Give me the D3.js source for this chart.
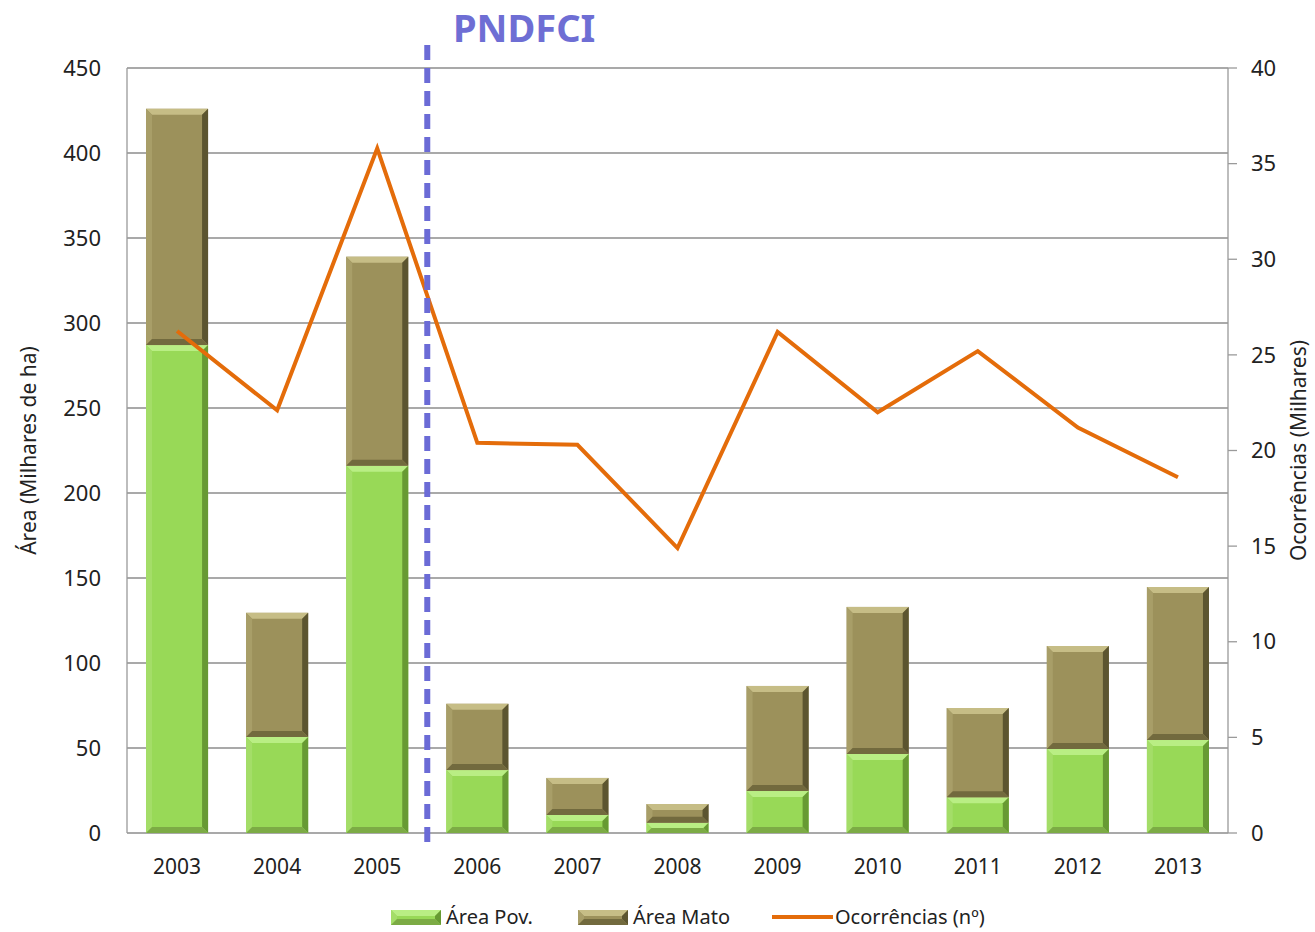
<!DOCTYPE html>
<html lang="pt">
<head>
<meta charset="utf-8">
<style>
  body { margin: 0; background: #fff; }
  text { font-family: "Noto Sans", "Open Sans", sans-serif; fill: #222; }
</style>
</head>
<body>
<script src="https://cdn.jsdelivr.net/npm/d3@7"></script>
<script>
const years = ["2003","2004","2005","2006","2007","2008","2009","2010","2011","2012","2013"];
const areaPov = [287, 56.5, 216, 37, 10.6, 6, 24.7, 46.5, 21, 49.4, 54.7];
const areaMato = [139, 73, 123, 39, 21.8, 11, 61.8, 86.5, 52.5, 60.6, 90];
const ocorrencias = [26.25, 22.1, 35.8, 20.4, 20.3, 14.9, 26.2, 22.0, 25.2, 21.2, 18.6];
const leftTicks = [0, 50, 100, 150, 200, 250, 300, 350, 400, 450];
const rightTicks = [0, 5, 10, 15, 20, 25, 30, 35, 40];

const W = 1315, H = 932;
const pLeft = 127, pRight = 1228, pTop = 68, pBottom = 833;

const svg = d3.select("body").append("svg").attr("width", W).attr("height", H);

const x = d3.scaleBand().domain(years).range([pLeft, pRight]).paddingInner(0.38).paddingOuter(0.19);
const y = d3.scaleLinear().domain([0, 450]).range([pBottom, pTop]);
const y2 = d3.scaleLinear().domain([0, 40]).range([pBottom, pTop]);

// gridlines
svg.append("g").selectAll("line").data(leftTicks).enter().append("line")
  .attr("x1", pLeft).attr("x2", pRight)
  .attr("y1", d => y(d)).attr("y2", d => y(d))
  .attr("stroke", "#8c8c8c").attr("stroke-width", 1.3);

// axes lines
svg.append("line").attr("x1", pLeft).attr("x2", pLeft).attr("y1", pTop).attr("y2", pBottom)
  .attr("stroke", "#9a9a9a").attr("stroke-width", 1.3);
svg.append("line").attr("x1", pRight).attr("x2", pRight).attr("y1", pTop).attr("y2", pBottom)
  .attr("stroke", "#9a9a9a").attr("stroke-width", 1.3);

// left labels
svg.append("g").selectAll("text").data(leftTicks).enter().append("text")
  .attr("x", 101).attr("y", d => y(d)).attr("dy", "0.35em")
  .attr("text-anchor", "end").style("font-size", "22px").text(d => d);

// right ticks + labels
svg.append("g").selectAll("line").data(rightTicks).enter().append("line")
  .attr("x1", pRight).attr("x2", pRight + 9)
  .attr("y1", d => y2(d)).attr("y2", d => y2(d))
  .attr("stroke", "#9a9a9a").attr("stroke-width", 1.3);
svg.append("g").selectAll("text").data(rightTicks).enter().append("text")
  .attr("x", 1251).attr("y", d => y2(d)).attr("dy", "0.35em")
  .attr("text-anchor", "start").style("font-size", "22px").text(d => d);

// x labels
svg.append("g").selectAll("text").data(years).enter().append("text")
  .attr("x", d => x(d) + x.bandwidth() / 2).attr("y", 867).attr("dy", "0.35em")
  .attr("text-anchor", "middle").style("font-size", "21px").text(d => d);

// axis titles
svg.append("text").attr("transform", "translate(36," + (pTop + pBottom) / 2 + ") rotate(-90)")
  .attr("text-anchor", "middle").style("font-size", "21px").text("Área (Milhares de ha)");
svg.append("text").attr("transform", "translate(1306," + (pTop + pBottom) / 2 + ") rotate(-90)")
  .attr("text-anchor", "middle").style("font-size", "21px").text("Ocorrências (Milhares)");

// bevelled bar helper
function bevelBar(g, x0, y0, w, h, c) {
  const b = Math.min(6, h / 2);
  g.append("rect").attr("x", x0).attr("y", y0).attr("width", w).attr("height", h).attr("fill", c.base);
  g.append("polygon").attr("points", [[x0, y0], [x0 + w, y0], [x0 + w - b, y0 + b], [x0 + b, y0 + b]].join(" ")).attr("fill", c.top);
  g.append("polygon").attr("points", [[x0, y0], [x0 + b, y0 + b], [x0 + b, y0 + h - b], [x0, y0 + h]].join(" ")).attr("fill", c.left);
  g.append("polygon").attr("points", [[x0 + w, y0], [x0 + w, y0 + h], [x0 + w - b, y0 + h - b], [x0 + w - b, y0 + b]].join(" ")).attr("fill", c.right);
  g.append("polygon").attr("points", [[x0, y0 + h], [x0 + w, y0 + h], [x0 + w - b, y0 + h - b], [x0 + b, y0 + h - b]].join(" ")).attr("fill", c.bottom);
}
const green = { base: "#98d957", top: "#b9ee84", left: "#a4dd68", right: "#679a33", bottom: "#7cab45" };
const brown = { base: "#9c915b", top: "#c6bd86", left: "#a89e68", right: "#5c5530", bottom: "#726a3e" };

const bars = svg.append("g");
years.forEach((yr, i) => {
  const bx = x(yr), bw = x.bandwidth();
  bevelBar(bars, bx, y(areaPov[i]), bw, y(0) - y(areaPov[i]), green);
  const tot = areaPov[i] + areaMato[i];
  bevelBar(bars, bx, y(tot), bw, y(areaPov[i]) - y(tot), brown);
});

// line
const line = d3.line().x((d, i) => x(years[i]) + x.bandwidth() / 2).y(d => y2(d));
svg.append("path").datum(ocorrencias).attr("d", line)
  .attr("fill", "none").attr("stroke", "#e46c0a").attr("stroke-width", 4).attr("stroke-linejoin", "miter");

// PNDFCI marker
const mx = (x("2005") + x.bandwidth() + x("2006")) / 2;
svg.append("line").attr("x1", mx).attr("x2", mx).attr("y1", 45).attr("y2", 850)
  .attr("stroke", "#6b6bd6").attr("stroke-width", 6).attr("stroke-dasharray", "15,8");
svg.append("text").attr("x", 453).attr("y", 29).attr("dy", "0.35em")
  .style("font-size", "38px").style("font-weight", "bold").style("fill", "#6e6ed4").text("PNDFCI");

// legend
const lg = svg.append("g");
bevelBar(lg, 391, 910, 50, 15, green);
lg.append("text").attr("x", 446).attr("y", 917).attr("dy", "0.35em").style("font-size", "20px").text("Área Pov.");
bevelBar(lg, 578, 910, 50, 15, brown);
lg.append("text").attr("x", 633).attr("y", 917).attr("dy", "0.35em").style("font-size", "20px").text("Área Mato");
lg.append("line").attr("x1", 772).attr("x2", 833).attr("y1", 917).attr("y2", 917)
  .attr("stroke", "#e46c0a").attr("stroke-width", 4);
lg.append("text").attr("x", 835).attr("y", 917).attr("dy", "0.35em").style("font-size", "20px").text("Ocorrências (nº)");
</script>
</body>
</html>
